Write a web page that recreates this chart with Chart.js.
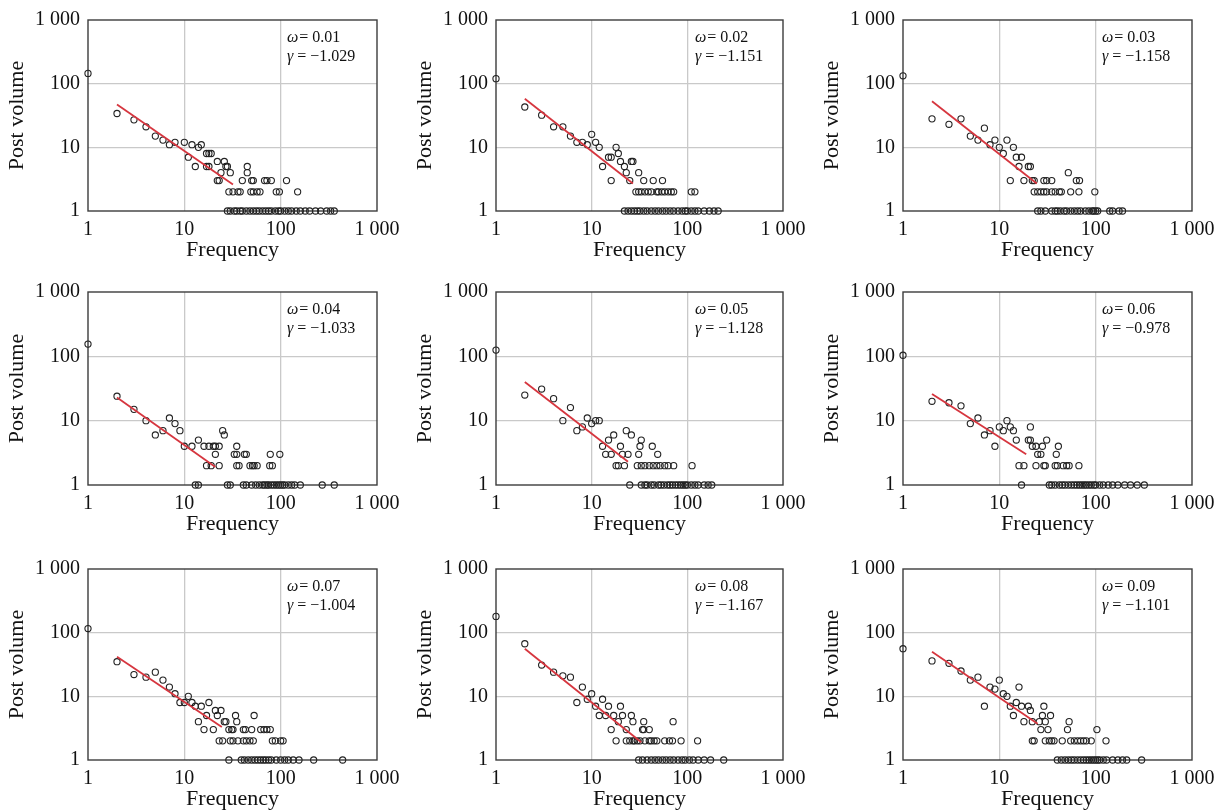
<!DOCTYPE html>
<html>
<head>
<meta charset="utf-8">
<script src="https://cdn.jsdelivr.net/npm/chart.js@4.4.1/dist/chart.umd.min.js"></script>
<style>
  html, body { margin: 0; padding: 0; background: #ffffff; overflow: hidden; width: 1223px; height: 811px; }
  canvas { position: absolute; }
</style>
</head>
<body>
<script>
// ---------- DATA ----------
const tickValues = [1, 10, 100, 1000];
const tickLabels = ['1', '10', '100', '1 000'];
const xTitle = 'Frequency';
const yTitle = 'Post volume';
const omegaLabels = ['0.01', '0.02', '0.03', '0.04', '0.05', '0.06', '0.07', '0.08', '0.09'];
const gammaLabels = ['\u22121.029', '\u22121.151', '\u22121.158', '\u22121.033', '\u22121.128', '\u22120.978', '\u22121.004', '\u22121.167', '\u22121.101'];

// fitted power-law line end points
const fitStartFreq = [2, 2, 2, 2, 2, 2, 2, 2, 2];
const fitEndFreq = [32, 27, 24.5, 21, 24, 19, 24.5, 33, 25];
const fitStartPost = [47, 58, 53, 23, 40, 26, 42, 56, 50];
const fitEndPost = [2.6, 2.7, 2.7, 1.9, 2.3, 3.0, 3.3, 1.9, 3.7];

// [frequency, post volume] points for each omega
const w01 = [[1,145],[2,34],[3,27],[4,21],[5,15],[6,13],[7,11],[8,12],[10,12],[11,7],[12,11],[13,5],[14,10],[15,11],[17,8],[18,8],[17,5],[18,5],[19,8],[22,6],[26,6],[27,5],[24,4],[28,5],[30,4],[22,3],[23,3],[40,3],[45,4],[45,5],[50,3],[52,3],[68,3],[72,3],[80,3],[115,3],
  [29,2],[32,2],[36,2],[38,2],[49,2],[52,2],[57,2],[61,2],[90,2],[97,2],[150,2],
  [28,1],[30,1],[33,1],[35,1],[38,1],[40,1],[44,1],[48,1],[52,1],[56,1],[60,1],[65,1],[70,1],[75,1],[80,1],[88,1],[95,1],[100,1],[110,1],[120,1],[130,1],[145,1],[160,1],[180,1],[200,1],[230,1],[260,1],[300,1],[330,1],[360,1]];
const w02 = [[1,120],[2,43],[3,32],[4,21],[5,21],[6,15],[7,12],[8,12],[9,11],[10,16],[11,12],[12,10],[13,5],[15,7],[16,7],[18,10],[19,8],[16,3],[20,6],[22,5],[23,4],[26,6],[27,6],[25,3],[31,4],[35,3],[44,3],[55,3],
  [29,2],[31,2],[33,2],[36,2],[39,2],[42,2],[48,2],[50,2],[54,2],[58,2],[63,2],[68,2],[72,2],[110,2],[120,2],
  [22,1],[24,1],[26,1],[28,1],[30,1],[32,1],[35,1],[38,1],[42,1],[46,1],[50,1],[55,1],[60,1],[66,1],[72,1],[80,1],[88,1],[95,1],[100,1],[110,1],[120,1],[130,1],[150,1],[170,1],[190,1],[210,1]];
const w03 = [[1,133],[2,28],[3,23],[4,28],[5,15],[6,13],[7,20],[8,11],[9,13],[10,10],[11,8],[12,13],[14,10],[15,7],[17,7],[16,5],[20,5],[21,5],[13,3],[18,3],[22,3],[23,3],[29,3],[31,3],[35,3],[52,4],[63,3],[68,3],
  [23,2],[25,2],[27,2],[29,2],[31,2],[35,2],[38,2],[42,2],[44,2],[55,2],[67,2],[98,2],
  [25,1],[27,1],[30,1],[35,1],[38,1],[40,1],[43,1],[47,1],[50,1],[55,1],[60,1],[65,1],[70,1],[78,1],[85,1],[92,1],[95,1],[100,1],[105,1],[140,1],[150,1],[175,1],[190,1]];
const w04 = [[1,155],[2,24],[3,15],[4,10],[5,6],[6,7],[7,11],[8,9],[9,7],[10,4],[12,4],[14,5],[16,4],[18,4],[20,4],[21,4],[23,4],[21,3],[25,7],[26,6],[35,4],[33,3],[35,3],[42,3],[44,3],[78,3],[98,3],
  [17,2],[19,2],[23,2],[35,2],[37,2],[48,2],[51,2],[53,2],[57,2],[77,2],[82,2],
  [13,1],[14,1],[28,1],[30,1],[41,1],[44,1],[50,1],[55,1],[60,1],[65,1],[68,1],[72,1],[75,1],[80,1],[85,1],[90,1],[95,1],[100,1],[105,1],[110,1],[120,1],[130,1],[140,1],[160,1],[270,1],[360,1]];
const w05 = [[1,125],[2,25],[3,31],[4,22],[5,10],[6,16],[7,7],[8,8],[9,11],[10,9],[11,10],[12,10],[13,4],[14,3],[16,3],[15,5],[17,6],[20,4],[21,3],[24,3],[23,7],[26,6],[31,3],[32,4],[33,5],[43,4],[49,3],
  [18,2],[19,2],[22,2],[30,2],[33,2],[36,2],[40,2],[44,2],[48,2],[52,2],[58,2],[63,2],[72,2],[112,2],
  [25,1],[33,1],[36,1],[38,1],[42,1],[45,1],[50,1],[53,1],[57,1],[62,1],[66,1],[70,1],[75,1],[80,1],[85,1],[90,1],[95,1],[100,1],[110,1],[120,1],[130,1],[150,1],[165,1],[180,1]];
const w06 = [[1,104],[2,20],[3,19],[4,17],[5,9],[6,11],[7,6],[8,7],[9,4],[10,8],[11,7],[12,10],[13,8],[14,7],[15,5],[20,5],[21,5],[21,8],[22,4],[24,4],[25,3],[27,3],[28,4],[31,5],[39,3],[41,4],
  [16,2],[18,2],[24,2],[29,2],[30,2],[38,2],[40,2],[46,2],[50,2],[53,2],[67,2],
  [17,1],[33,1],[35,1],[38,1],[42,1],[45,1],[48,1],[52,1],[56,1],[60,1],[64,1],[68,1],[72,1],[76,1],[80,1],[85,1],[90,1],[96,1],[100,1],[110,1],[120,1],[135,1],[150,1],[170,1],[200,1],[230,1],[270,1],[320,1]];
const w07 = [[1,116],[2,35],[3,22],[4,20],[5,24],[6,18],[7,14],[8,11],[9,8],[10,8],[11,10],[12,8],[13,7],[14,4],[15,7],[16,3],[18,8],[17,5],[20,3],[21,6],[22,5],[24,6],[26,4],[27,4],[29,3],[31,3],[32,3],[34,5],[35,4],[41,3],[43,3],[50,3],[53,5],[62,3],[67,3],[72,3],[78,3],
  [23,2],[25,2],[30,2],[32,2],[36,2],[41,2],[44,2],[48,2],[52,2],[82,2],[88,2],[100,2],[106,2],
  [29,1],[39,1],[42,1],[46,1],[50,1],[54,1],[58,1],[62,1],[66,1],[70,1],[75,1],[80,1],[90,1],[100,1],[110,1],[120,1],[135,1],[155,1],[220,1],[440,1]];
const w08 = [[1,180],[2,67],[3,31],[4,24],[5,21],[6,20],[7,8],[8,14],[9,9],[10,11],[11,7],[12,5],[13,9],[14,5],[15,7],[16,3],[17,5],[19,4],[20,7],[21,5],[23,3],[26,5],[27,4],[35,4],[34,3],[35,3],[40,3],[71,4],
  [18,2],[23,2],[25,2],[27,2],[28,2],[30,2],[32,2],[36,2],[40,2],[42,2],[45,2],[48,2],[58,2],[65,2],[70,2],[86,2],[128,2],
  [31,1],[34,1],[38,1],[42,1],[46,1],[50,1],[55,1],[60,1],[66,1],[72,1],[80,1],[88,1],[95,1],[105,1],[115,1],[130,1],[150,1],[175,1],[240,1]];
const w09 = [[1,56],[2,36],[3,33],[4,25],[5,18],[6,20],[7,7],[8,14],[9,13],[10,18],[11,11],[12,10],[13,7],[14,5],[15,8],[16,14],[17,7],[18,4],[20,7],[21,6],[22,4],[26,4],[27,3],[28,5],[29,7],[30,4],[32,3],[34,5],[51,3],[53,4],[103,3],
  [22,2],[23,2],[30,2],[33,2],[35,2],[37,2],[45,2],[55,2],[60,2],[65,2],[70,2],[75,2],[80,2],[90,2],[128,2],
  [40,1],[44,1],[48,1],[52,1],[56,1],[60,1],[65,1],[70,1],[75,1],[80,1],[85,1],[90,1],[95,1],[100,1],[105,1],[110,1],[120,1],[130,1],[150,1],[170,1],[190,1],[210,1],[300,1]];
const panelSeries = [w01, w02, w03, w04, w05, w06, w07, w08, w09];

// ---------- LAYOUT ----------
const colBounds = [[88, 377], [496, 783], [903, 1192]];
const rowBounds = [[14, 211], [286, 485], [563, 760]];
const AXIS_W = 88, AXIS_H = 60, PAD_TOP = 14, PAD_RIGHT = 30;
const SERIF = "'Liberation Serif', 'Times New Roman', serif";

const framePlugin = {
  id: 'frame',
  beforeDatasetsDraw(chart) {
    const { ctx, chartArea: a } = chart;
    ctx.save();
    ctx.strokeStyle = '#3c3c3c';
    ctx.lineWidth = 1.4;
    ctx.strokeRect(a.left, a.top, a.right - a.left, a.bottom - a.top);
    ctx.restore();
  },
  afterDraw(chart, args, opts) {
    const { ctx, chartArea: a } = chart;
    ctx.save();
    ctx.fillStyle = '#111';
    ctx.textBaseline = 'middle';
    const x0 = a.left + 199;
    ctx.font = 'italic 16px ' + SERIF;
    ctx.fillText('\u03C9', x0, a.top + 18);
    let w = ctx.measureText('\u03C9').width;
    ctx.font = '16px ' + SERIF;
    ctx.fillText('= ' + opts.omega, x0 + w + 1, a.top + 18);
    ctx.font = 'italic 16px ' + SERIF;
    ctx.fillText('\u03B3', x0, a.top + 37);
    w = ctx.measureText('\u03B3').width;
    ctx.font = '16px ' + SERIF;
    ctx.fillText(' = ' + opts.gamma, x0 + w, a.top + 37);
    ctx.restore();
  }
};

function gridColor(c) {
  const v = c.tick && c.tick.value;
  return (v === tickValues[0] || v === tickValues[tickValues.length - 1]) ? 'rgba(0,0,0,0)' : '#c9c9c9';
}
function fmtTick(value) {
  const i = tickValues.indexOf(value);
  return i >= 0 ? tickLabels[i] : '';
}
function setTicks(scale) {
  scale.ticks = tickValues.map(v => ({ value: v }));
}

for (let i = 0; i < 9; i++) {
  const [pl, pr] = colBounds[i % 3];
  const [pt, pb] = rowBounds[Math.floor(i / 3)];
  const cv = document.createElement('canvas');
  const W = (pr - pl) + AXIS_W + PAD_RIGHT;
  const H = (pb - pt) + PAD_TOP + AXIS_H;
  cv.width = W; cv.height = H;
  cv.style.left = (pl - AXIS_W) + 'px';
  cv.style.top = (pt - PAD_TOP) + 'px';
  cv.style.width = W + 'px'; cv.style.height = H + 'px';
  document.body.appendChild(cv);

  const pts = panelSeries[i].map(p => ({ x: p[0], y: p[1] }));
  const fit = [{ x: fitStartFreq[i], y: fitStartPost[i] }, { x: fitEndFreq[i], y: fitEndPost[i] }];

  new Chart(cv, {
    type: 'scatter',
    data: {
      datasets: [
        {
          data: fit, showLine: true, borderColor: '#d6363f', borderWidth: 1.8,
          pointRadius: 0, pointHoverRadius: 0, order: 0
        },
        {
          data: pts, pointRadius: 3.1, pointBorderWidth: 1.1,
          pointBorderColor: '#222', pointBackgroundColor: 'rgba(255,255,255,0)',
          borderColor: '#222', backgroundColor: 'rgba(255,255,255,0)', clip: false, order: 1
        }
      ]
    },
    options: {
      responsive: false, animation: false, devicePixelRatio: 1,
      layout: { padding: { top: PAD_TOP, right: PAD_RIGHT, bottom: 0, left: 0 } },
      plugins: {
        legend: { display: false }, tooltip: { enabled: false },
        frame: { omega: omegaLabels[i], gamma: gammaLabels[i] }
      },
      scales: {
        x: {
          type: 'logarithmic', min: 1, max: 1000,
          afterBuildTicks: setTicks,
          afterFit(s) { s.height = AXIS_H; },
          border: { display: false },
          grid: { color: gridColor, lineWidth: 1.3, drawTicks: false },
          ticks: { callback: fmtTick, color: '#111', padding: 7, maxRotation: 0, autoSkip: false,
                   font: { family: SERIF, size: 20 } },
          title: { display: true, text: xTitle, color: '#111', padding: { top: 0, bottom: 8 },
                   font: { family: SERIF, size: 22 } }
        },
        y: {
          type: 'logarithmic', min: 1, max: 1000,
          afterBuildTicks: setTicks,
          afterFit(s) { s.width = AXIS_W; },
          border: { display: false },
          grid: { color: gridColor, lineWidth: 1.3, drawTicks: false },
          ticks: { callback: fmtTick, color: '#111', padding: 8, autoSkip: false,
                   font: { family: SERIF, size: 20 } },
          title: { display: true, text: yTitle, color: '#111', padding: { top: 4, bottom: 0 },
                   font: { family: SERIF, size: 22 } }
        }
      }
    },
    plugins: [framePlugin]
  });
}
</script>
</body>
</html>
